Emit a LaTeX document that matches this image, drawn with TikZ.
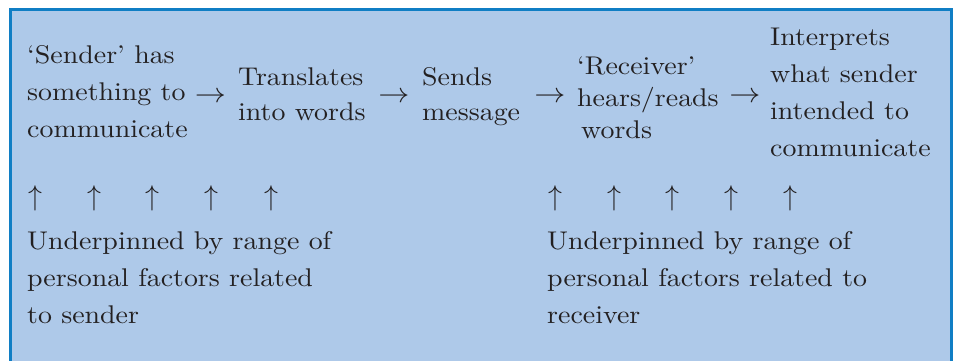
\documentclass[tikz,border=0pt]{standalone}
\usepackage{fontspec}
\setmainfont{lmroman10-regular.otf}[FakeStretch=1.09]
\definecolor{boxfill}{RGB}{174,201,233}
\definecolor{boxline}{RGB}{16,126,196}
\definecolor{ink}{RGB}{35,32,33}
\newcommand{\bodyfont}[1]{\fontsize{25.6}{#1}\selectfont}
\newcommand{\longarrow}{\scalebox{1.25}[1.12]{$\rightarrow$}}
\newcommand{\tallarrow}{\scalebox{1.12}[1.15]{$\uparrow$}}
\begin{document}
\begin{tikzpicture}[x=1pt,y=-1pt,
  txt/.style={anchor=north west, inner sep=0pt, align=left, text=ink, font=\bodyfont{37}},
  glyph/.style={inner sep=0pt, text=ink, font=\bodyfont{37}}]
\useasboundingbox (0,0) rectangle (956,360);
\clip (0,0) rectangle (956,360);
\draw[boxline, fill=boxfill, line width=3pt] (10,9.5) rectangle (951.5,380);
% top row
\node[txt] (sender) at (27,45.2) {‘Sender’ has\\something to\\communicate};
\node[txt, font=\bodyfont{35}] (translate) at (238,67.2) {Translates\\into words};
\node[txt, font=\bodyfont{35}] (sends) at (422,67.2) {Sends\\message};
\node[txt, font=\bodyfont{32}] (receiver) at (577,56.2) {‘Receiver’\\hears/reads\\\hspace*{4pt}words};
\node[txt] (interpret) at (770,27.5) {Interprets\\what sender\\intended to\\communicate};
% right arrows
\node[glyph] (r1) at (210.5,97) {\longarrow};
\node[glyph] (r2) at (394,97) {\longarrow};
\node[glyph] (r3) at (550,97) {\longarrow};
\node[glyph] (r4) at (745,97) {\longarrow};
% up arrows
\foreach \x [count=\i] in {35,94,152,211,271}
  \node[glyph] (ul\i) at (\x,198.5) {\tallarrow};
\foreach \x [count=\i] in {555,614,672.7,731.7,790}
  \node[glyph] (ur\i) at (\x,198.5) {\tallarrow};
% bottom texts
\node[txt] (factsender) at (27,231.2) {Underpinned by range of\\personal factors related\\to sender};
\node[txt] (factreceiver) at (547,230.8) {Underpinned by range of\\personal factors related to\\receiver};
\end{tikzpicture}
\end{document}
